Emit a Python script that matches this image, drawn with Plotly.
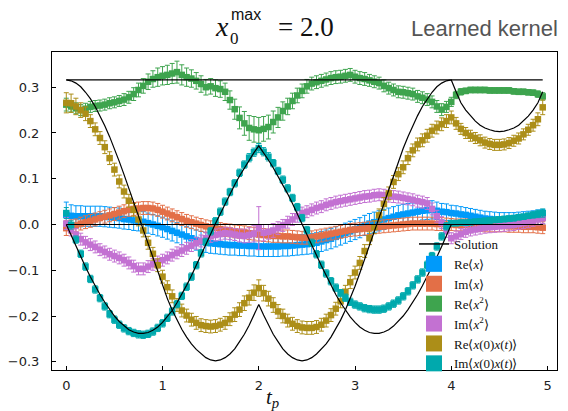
import plotly.graph_objects as go

# contour time grid
T_P = [round(0.05 * i, 2) for i in range(100)]

# ---- exact solution ----
SOL_ZERO = 0.0
SOL_X2 = 0.316
SOL_RE_XX = [
    0.316, 0.314, 0.309, 0.301, 0.289, 0.275, 0.258, 0.238, 0.216, 0.192,
    0.166, 0.138, 0.109, 0.079, 0.048, 0.017, -0.014, -0.045, -0.076, -0.106,
    -0.135, -0.162, -0.187, -0.209, -0.229, -0.246, -0.261, -0.273, -0.283, -0.291,
    -0.296, -0.298, -0.296, -0.291, -0.283, -0.272, -0.256, -0.240, -0.220, -0.198,
    -0.175, -0.198, -0.220, -0.240, -0.256, -0.272, -0.283, -0.291, -0.296, -0.298,
    -0.296, -0.291, -0.283, -0.273, -0.261, -0.246, -0.229, -0.209, -0.187, -0.162,
    -0.135, -0.106, -0.076, -0.045, -0.014, 0.017, 0.048, 0.079, 0.109, 0.138,
    0.166, 0.192, 0.216, 0.238, 0.258, 0.275, 0.289, 0.301, 0.309, 0.314,
    0.316, 0.290, 0.266, 0.250, 0.237, 0.226, 0.217, 0.211, 0.207, 0.204,
    0.203, 0.204, 0.207, 0.211, 0.217, 0.226, 0.237, 0.250, 0.266, 0.290,
]
SOL_IM_XX = [
    0.000, -0.024, -0.048, -0.071, -0.093, -0.114, -0.134, -0.153, -0.170, -0.186,
    -0.200, -0.212, -0.222, -0.230, -0.235, -0.238, -0.238, -0.236, -0.231, -0.224,
    -0.214, -0.202, -0.188, -0.171, -0.153, -0.133, -0.112, -0.090, -0.067, -0.044,
    -0.021, 0.002, 0.024, 0.046, 0.067, 0.087, 0.106, 0.124, 0.141, 0.157,
    0.172, 0.157, 0.141, 0.124, 0.106, 0.087, 0.067, 0.046, 0.024, 0.002,
    -0.021, -0.044, -0.067, -0.090, -0.112, -0.133, -0.153, -0.171, -0.188, -0.202,
    -0.214, -0.224, -0.231, -0.236, -0.238, -0.238, -0.235, -0.230, -0.222, -0.212,
    -0.200, -0.186, -0.170, -0.153, -0.134, -0.114, -0.093, -0.071, -0.048, -0.024,
    0.000, 0.000, 0.000, 0.000, 0.000, 0.000, 0.000, 0.000, 0.000, 0.000,
    0.000, 0.000, 0.000, 0.000, 0.000, 0.000, 0.000, 0.000, 0.000, 0.000,
]

# ---- complex Langevin results ----
RE_X = [
    0.021, 0.019, 0.018, 0.018, 0.018, 0.018, 0.018, 0.018, 0.017, 0.016,
    0.015, 0.014, 0.012, 0.011, 0.009, 0.008, 0.006, 0.003, 0.000, -0.003,
    -0.006, -0.010, -0.014, -0.018, -0.022, -0.026, -0.030, -0.034, -0.037, -0.039,
    -0.041, -0.042, -0.043, -0.044, -0.045, -0.045, -0.046, -0.046, -0.047, -0.047,
    -0.048, -0.048, -0.048, -0.048, -0.048, -0.047, -0.047, -0.046, -0.045, -0.044,
    -0.043, -0.042, -0.040, -0.037, -0.034, -0.031, -0.027, -0.023, -0.019, -0.015,
    -0.011, -0.007, -0.002, 0.002, 0.005, 0.008, 0.011, 0.014, 0.017, 0.020,
    0.022, 0.024, 0.026, 0.028, 0.030, 0.031, 0.032, 0.030, 0.028, 0.027,
    0.025, 0.024, 0.022, 0.021, 0.019, 0.017, 0.015, 0.013, 0.012, 0.011,
    0.010, 0.010, 0.010, 0.010, 0.011, 0.012, 0.013, 0.014, 0.016, 0.017,
]
RE_X_ERR = [
    0.028, 0.024, 0.023, 0.023, 0.022, 0.022, 0.022, 0.022, 0.022, 0.022,
    0.022, 0.022, 0.022, 0.022, 0.022, 0.022, 0.022, 0.022, 0.022, 0.022,
    0.022, 0.022, 0.022, 0.022, 0.022, 0.022, 0.022, 0.022, 0.022, 0.022,
    0.022, 0.022, 0.022, 0.022, 0.022, 0.022, 0.022, 0.022, 0.022, 0.022,
    0.022, 0.022, 0.022, 0.022, 0.022, 0.022, 0.022, 0.022, 0.022, 0.022,
    0.022, 0.022, 0.022, 0.022, 0.022, 0.022, 0.022, 0.022, 0.022, 0.022,
    0.022, 0.022, 0.022, 0.022, 0.022, 0.022, 0.022, 0.022, 0.022, 0.022,
    0.022, 0.022, 0.021, 0.021, 0.020, 0.020, 0.020, 0.019, 0.018, 0.018,
    0.017, 0.017, 0.017, 0.016, 0.016, 0.016, 0.016, 0.016, 0.016, 0.016,
    0.016, 0.016, 0.016, 0.016, 0.016, 0.016, 0.016, 0.016, 0.016, 0.016,
]
IM_X = [
    -0.008, -0.005, -0.002, 0.002, 0.005, 0.008, 0.011, 0.014, 0.017, 0.020,
    0.023, 0.026, 0.029, 0.032, 0.034, 0.035, 0.036, 0.036, 0.035, 0.032,
    0.028, 0.024, 0.020, 0.016, 0.012, 0.008, 0.005, 0.002, -0.001, -0.004,
    -0.006, -0.008, -0.010, -0.012, -0.013, -0.015, -0.016, -0.017, -0.019, -0.020,
    -0.022, -0.023, -0.024, -0.025, -0.025, -0.026, -0.026, -0.027, -0.028, -0.029,
    -0.029, -0.028, -0.026, -0.024, -0.022, -0.020, -0.018, -0.016, -0.014, -0.012,
    -0.011, -0.010, -0.009, -0.008, -0.006, -0.005, -0.004, -0.003, -0.002, -0.001,
    0.000, 0.001, 0.002, 0.002, 0.002, 0.002, 0.002, 0.001, 0.001, 0.000,
    0.000, -0.001, -0.001, -0.001, -0.002, -0.002, -0.002, -0.003, -0.003, -0.003,
    -0.003, -0.003, -0.004, -0.004, -0.004, -0.005, -0.005, -0.005, -0.006, -0.007,
]
IM_X_ERR = [
    0.016, 0.015, 0.014, 0.014, 0.014, 0.014, 0.014, 0.014, 0.014, 0.014,
    0.014, 0.014, 0.014, 0.014, 0.014, 0.014, 0.014, 0.014, 0.014, 0.014,
    0.014, 0.014, 0.014, 0.014, 0.014, 0.014, 0.014, 0.014, 0.014, 0.014,
    0.014, 0.014, 0.014, 0.014, 0.014, 0.014, 0.014, 0.014, 0.014, 0.014,
    0.014, 0.014, 0.014, 0.014, 0.014, 0.014, 0.014, 0.014, 0.014, 0.014,
    0.014, 0.014, 0.014, 0.014, 0.014, 0.014, 0.014, 0.014, 0.014, 0.014,
    0.014, 0.014, 0.014, 0.014, 0.014, 0.014, 0.014, 0.014, 0.014, 0.014,
    0.014, 0.014, 0.014, 0.014, 0.014, 0.014, 0.014, 0.014, 0.014, 0.014,
    0.013, 0.013, 0.013, 0.013, 0.013, 0.013, 0.013, 0.013, 0.013, 0.013,
    0.013, 0.013, 0.013, 0.013, 0.013, 0.013, 0.013, 0.013, 0.013, 0.013,
]
RE_X2 = [
    0.262, 0.258, 0.254, 0.250, 0.253, 0.257, 0.259, 0.260, 0.262, 0.265,
    0.267, 0.270, 0.273, 0.278, 0.285, 0.294, 0.303, 0.312, 0.318, 0.322,
    0.325, 0.327, 0.330, 0.333, 0.327, 0.322, 0.319, 0.314, 0.307, 0.300,
    0.302, 0.298, 0.296, 0.290, 0.272, 0.252, 0.233, 0.221, 0.211, 0.208,
    0.206, 0.209, 0.213, 0.224, 0.234, 0.248, 0.258, 0.270, 0.282, 0.292,
    0.302, 0.308, 0.311, 0.314, 0.317, 0.320, 0.322, 0.323, 0.325, 0.327,
    0.323, 0.320, 0.318, 0.315, 0.312, 0.309, 0.303, 0.298, 0.294, 0.290,
    0.289, 0.287, 0.285, 0.280, 0.277, 0.273, 0.268, 0.258, 0.251, 0.257,
    0.268, 0.283, 0.290, 0.292, 0.294, 0.294, 0.294, 0.294, 0.293, 0.293,
    0.293, 0.293, 0.293, 0.291, 0.290, 0.290, 0.289, 0.288, 0.285, 0.280,
]
RE_X2_ERR = [
    0.014, 0.012, 0.012, 0.012, 0.012, 0.012, 0.012, 0.012, 0.012, 0.012,
    0.012, 0.012, 0.013, 0.013, 0.014, 0.015, 0.016, 0.017, 0.018, 0.020,
    0.020, 0.021, 0.022, 0.024, 0.022, 0.020, 0.019, 0.018, 0.018, 0.017,
    0.017, 0.018, 0.018, 0.019, 0.020, 0.022, 0.024, 0.026, 0.027, 0.028,
    0.028, 0.027, 0.026, 0.024, 0.022, 0.020, 0.018, 0.017, 0.016, 0.015,
    0.015, 0.014, 0.014, 0.014, 0.014, 0.014, 0.014, 0.014, 0.014, 0.014,
    0.014, 0.014, 0.014, 0.013, 0.013, 0.013, 0.013, 0.013, 0.013, 0.013,
    0.013, 0.013, 0.013, 0.013, 0.013, 0.013, 0.013, 0.013, 0.013, 0.012,
    0.010, 0.008, 0.007, 0.006, 0.006, 0.006, 0.006, 0.006, 0.006, 0.006,
    0.006, 0.006, 0.006, 0.006, 0.006, 0.006, 0.006, 0.006, 0.007, 0.008,
]
IM_X2 = [
    0.002, -0.012, -0.022, -0.032, -0.039, -0.044, -0.049, -0.055, -0.060, -0.065,
    -0.069, -0.073, -0.078, -0.084, -0.091, -0.097, -0.097, -0.092, -0.087, -0.082,
    -0.078, -0.073, -0.067, -0.062, -0.057, -0.052, -0.046, -0.041, -0.036, -0.030,
    -0.026, -0.023, -0.021, -0.019, -0.020, -0.022, -0.024, -0.025, -0.023, -0.020,
    -0.008, -0.018, -0.016, -0.013, -0.008, -0.002, 0.005, 0.011, 0.018, 0.025,
    0.028, 0.032, 0.036, 0.039, 0.043, 0.046, 0.049, 0.051, 0.053, 0.055,
    0.057, 0.059, 0.061, 0.062, 0.064, 0.065, 0.064, 0.062, 0.061, 0.060,
    0.058, 0.056, 0.054, 0.051, 0.049, 0.046, 0.034, 0.018, 0.004, -0.015,
    -0.030, -0.026, -0.021, -0.016, -0.013, -0.011, -0.009, -0.007, -0.006, -0.005,
    -0.004, -0.003, -0.002, -0.001, 0.001, 0.003, 0.005, 0.008, 0.011, 0.014,
]
IM_X2_ERR = [
    0.013, 0.013, 0.013, 0.013, 0.013, 0.013, 0.013, 0.013, 0.013, 0.013,
    0.013, 0.013, 0.013, 0.013, 0.013, 0.013, 0.013, 0.013, 0.013, 0.013,
    0.013, 0.013, 0.013, 0.013, 0.013, 0.013, 0.013, 0.013, 0.013, 0.013,
    0.013, 0.013, 0.013, 0.013, 0.013, 0.013, 0.014, 0.015, 0.016, 0.018,
    0.047, 0.018, 0.016, 0.015, 0.014, 0.013, 0.013, 0.013, 0.013, 0.013,
    0.013, 0.013, 0.013, 0.013, 0.013, 0.013, 0.013, 0.013, 0.013, 0.013,
    0.013, 0.013, 0.013, 0.013, 0.013, 0.013, 0.013, 0.013, 0.013, 0.013,
    0.013, 0.013, 0.013, 0.013, 0.013, 0.013, 0.013, 0.013, 0.013, 0.013,
    0.012, 0.012, 0.012, 0.012, 0.012, 0.012, 0.012, 0.012, 0.012, 0.012,
    0.012, 0.012, 0.012, 0.012, 0.012, 0.012, 0.012, 0.012, 0.012, 0.012,
]
RE_XX = [
    0.266, 0.265, 0.258, 0.250, 0.242, 0.226, 0.208, 0.189, 0.169, 0.145,
    0.120, 0.094, 0.072, 0.052, 0.032, 0.011, -0.013, -0.040, -0.064, -0.089,
    -0.114, -0.137, -0.157, -0.176, -0.188, -0.199, -0.208, -0.215, -0.220, -0.222,
    -0.223, -0.222, -0.219, -0.215, -0.207, -0.197, -0.186, -0.172, -0.160, -0.149,
    -0.139, -0.150, -0.162, -0.176, -0.190, -0.200, -0.210, -0.217, -0.222, -0.225,
    -0.226, -0.226, -0.224, -0.219, -0.210, -0.198, -0.184, -0.168, -0.147, -0.126,
    -0.105, -0.084, -0.058, -0.030, -0.006, 0.020, 0.045, 0.068, 0.093, 0.110,
    0.125, 0.145, 0.162, 0.175, 0.184, 0.194, 0.205, 0.212, 0.219, 0.226,
    0.234, 0.221, 0.209, 0.200, 0.194, 0.189, 0.184, 0.179, 0.176, 0.174,
    0.174, 0.175, 0.178, 0.183, 0.188, 0.197, 0.207, 0.217, 0.230, 0.256,
]
RE_XX_ERR = [
    0.022, 0.020, 0.018, 0.016, 0.015, 0.014, 0.014, 0.014, 0.014, 0.014,
    0.014, 0.014, 0.014, 0.014, 0.014, 0.014, 0.014, 0.014, 0.014, 0.014,
    0.014, 0.014, 0.014, 0.014, 0.014, 0.014, 0.014, 0.014, 0.014, 0.014,
    0.014, 0.014, 0.014, 0.014, 0.014, 0.015, 0.015, 0.016, 0.016, 0.017,
    0.018, 0.017, 0.016, 0.016, 0.015, 0.015, 0.014, 0.014, 0.014, 0.014,
    0.014, 0.014, 0.014, 0.014, 0.014, 0.014, 0.014, 0.014, 0.014, 0.014,
    0.014, 0.014, 0.014, 0.014, 0.014, 0.014, 0.014, 0.014, 0.014, 0.014,
    0.014, 0.014, 0.014, 0.014, 0.014, 0.014, 0.014, 0.014, 0.014, 0.014,
    0.014, 0.013, 0.012, 0.012, 0.012, 0.012, 0.012, 0.012, 0.012, 0.012,
    0.012, 0.012, 0.012, 0.012, 0.012, 0.012, 0.012, 0.013, 0.014, 0.016,
]
IM_XX = [
    0.025, -0.001, -0.033, -0.064, -0.092, -0.119, -0.142, -0.161, -0.179, -0.196,
    -0.208, -0.219, -0.227, -0.233, -0.237, -0.240, -0.241, -0.239, -0.234, -0.226,
    -0.216, -0.204, -0.190, -0.174, -0.156, -0.136, -0.114, -0.089, -0.063, -0.038,
    -0.015, 0.007, 0.028, 0.050, 0.071, 0.090, 0.113, 0.131, 0.146, 0.158,
    0.167, 0.159, 0.148, 0.134, 0.117, 0.098, 0.079, 0.058, 0.038, 0.014,
    -0.012, -0.040, -0.065, -0.088, -0.107, -0.124, -0.138, -0.150, -0.160, -0.169,
    -0.175, -0.179, -0.183, -0.185, -0.186, -0.186, -0.184, -0.179, -0.173, -0.166,
    -0.157, -0.146, -0.133, -0.120, -0.105, -0.088, -0.069, -0.048, -0.026, -0.004,
    0.003, 0.003, 0.004, 0.004, 0.005, 0.006, 0.007, 0.008, 0.009, 0.010,
    0.011, 0.012, 0.013, 0.014, 0.016, 0.017, 0.019, 0.021, 0.023, 0.025,
]
IM_XX_ERR = [
    0.012, 0.009, 0.008, 0.008, 0.008, 0.008, 0.008, 0.008, 0.008, 0.008,
    0.008, 0.008, 0.008, 0.008, 0.008, 0.008, 0.008, 0.008, 0.008, 0.008,
    0.008, 0.008, 0.008, 0.008, 0.008, 0.008, 0.008, 0.008, 0.008, 0.008,
    0.008, 0.008, 0.008, 0.008, 0.008, 0.008, 0.008, 0.008, 0.009, 0.009,
    0.010, 0.009, 0.009, 0.008, 0.008, 0.008, 0.008, 0.008, 0.008, 0.008,
    0.008, 0.008, 0.008, 0.008, 0.008, 0.008, 0.008, 0.008, 0.008, 0.008,
    0.008, 0.008, 0.008, 0.008, 0.008, 0.008, 0.008, 0.008, 0.008, 0.008,
    0.008, 0.008, 0.008, 0.008, 0.008, 0.008, 0.008, 0.008, 0.008, 0.008,
    0.006, 0.006, 0.006, 0.006, 0.006, 0.006, 0.006, 0.006, 0.006, 0.006,
    0.006, 0.006, 0.006, 0.006, 0.006, 0.006, 0.006, 0.007, 0.008, 0.009,
]

LABELS = ["Re⟨<i>x</i>⟩", "Im⟨<i>x</i>⟩", "Re⟨<i>x</i><sup>2</sup>⟩", "Im⟨<i>x</i><sup>2</sup>⟩",
          "Re⟨<i>x</i>(0)<i>x</i>(<i>t</i>)⟩", "Im⟨<i>x</i>(0)<i>x</i>(<i>t</i>)⟩"]
COLORS = ["#009AFA", "#E36F47", "#3EA44E", "#C371D2", "#AC8E18", "#00A9AD"]
SERIES = [(RE_X, RE_X_ERR), (IM_X, IM_X_ERR), (RE_X2, RE_X2_ERR),
          (IM_X2, IM_X2_ERR), (RE_XX, RE_XX_ERR), (IM_XX, IM_XX_ERR)]

fig = go.Figure()

for (vals, errs), col in zip(SERIES, COLORS):
    fig.add_trace(go.Scatter(
        x=T_P, y=vals, mode="markers", showlegend=False,
        marker=dict(symbol="square", size=6.5, color=col, line=dict(width=0)),
        error_y=dict(type="data", array=errs, visible=True, color=col,
                     thickness=1, width=2.5),
    ))

# solution curves on top
sol_sets = [[SOL_ZERO] * len(T_P), [SOL_X2] * len(T_P), SOL_RE_XX, SOL_IM_XX]
for sv in sol_sets:
    fig.add_trace(go.Scatter(x=T_P, y=sv, mode="lines", showlegend=False,
                             line=dict(color="black", width=1.2)))

# legend entries
fig.add_trace(go.Scatter(x=[None], y=[None], mode="lines", name="Solution",
                         line=dict(color="black", width=1.5), legendrank=1))
for i, (lab, col) in enumerate(zip(LABELS, COLORS)):
    fig.add_trace(go.Scatter(x=[None], y=[None], mode="markers", name=lab,
                             marker=dict(symbol="square", size=16, color=col),
                             legendrank=2 + i))

W, H = 568, 411
L, R, TOP, BOT = 52, 11, 52, 41
PW, PH = W - L - R, H - TOP - BOT


def px(x):
    return (x - L) / PW


def py(y):
    return (H - BOT - y) / PH


serif = "Liberation Serif"
ann = [
    dict(text="<i>x</i>", x=px(222), y=py(27), font=dict(family=serif, size=28, color="#111")),
    dict(text="max", x=px(246), y=py(15), font=dict(family="Liberation Sans", size=16, color="#111")),
    dict(text="0", x=px(234), y=py(38), font=dict(family=serif, size=17, color="#111")),
    dict(text="= 2.0", x=px(306), y=py(27), font=dict(family=serif, size=27, color="#111")),
    dict(text="Learned kernel", x=px(484), y=py(29), font=dict(family="Liberation Sans", size=22, color="#555")),
    dict(text="<i>t</i><sub><i>p</i></sub>", x=px(272), y=py(398), font=dict(family=serif, size=21, color="#111")),
]
for a in ann:
    a.update(xref="paper", yref="paper", showarrow=False, xanchor="center", yanchor="middle")

fig.update_layout(
    width=W, height=H,
    margin=dict(l=L, r=R, t=TOP, b=BOT, pad=0, autoexpand=False),
    paper_bgcolor="white", plot_bgcolor="white",
    annotations=ann,
    showlegend=True,
    legend=dict(x=px(414), y=py(229), xanchor="left", yanchor="top",
                bgcolor="rgba(0,0,0,0)", borderwidth=0,
                font=dict(family=serif, size=13, color="#111"),
                tracegroupgap=0, itemwidth=30),
    xaxis=dict(range=[-0.1485, 5.0985], tickvals=[0, 1, 2, 3, 4, 5],
               ticks="inside", ticklen=4, tickcolor="black", automargin=False,
               ticklabelstandoff=3,
               showline=True, linecolor="black", linewidth=1, mirror=True,
               showgrid=False, zeroline=False,
               tickfont=dict(family="DejaVu Sans", size=13, color="#222")),
    yaxis=dict(range=[-0.318, 0.377], tickvals=[-0.3, -0.2, -0.1, 0.0, 0.1, 0.2, 0.3],
               tickformat=".1f", automargin=False, ticklabelstandoff=9,
               ticks="inside", ticklen=4, tickcolor="black",
               showline=True, linecolor="black", linewidth=1, mirror=True,
               showgrid=False, zeroline=False,
               tickfont=dict(family="DejaVu Sans", size=13, color="#222")),
)

fig.write_html("out.html")
